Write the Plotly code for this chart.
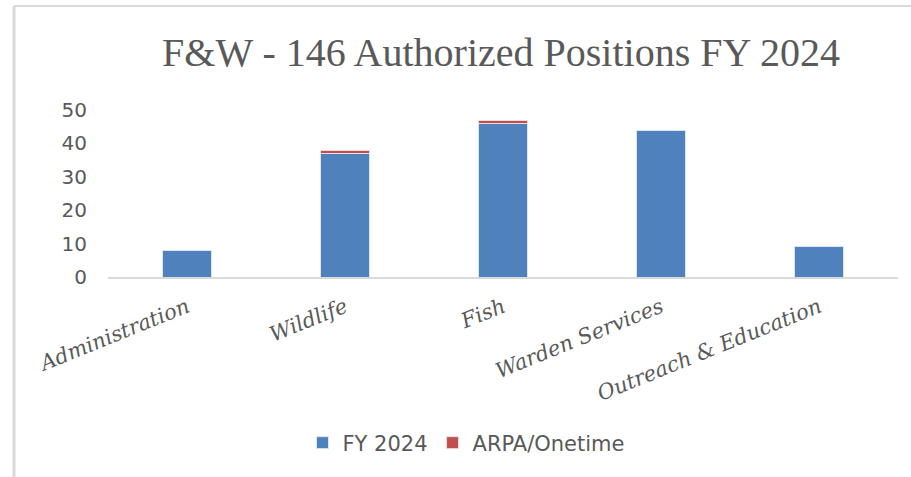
import plotly.graph_objects as go

categories = ["Administration", "Wildlife", "Fish", "Warden Services", "Outreach & Education"]
fy2024 = [8, 37, 46, 44, 9]
arpa_onetime = [None, 1, 1, None, None]

W, H = 911, 477
L, R, T, B = 108, 13, 110, 200
GREY = "#595959"


def px_x(x):
    return (x - L) / (W - L - R)


def px_y(y):
    return (H - B - y) / (H - T - B)


fig = go.Figure()
fig.add_trace(
    go.Bar(
        x=categories,
        y=fy2024,
        name="FY 2024",
        marker=dict(color="#4f81bd", line=dict(color="#dce6f2", width=1)),
    )
)
fig.add_trace(
    go.Bar(
        x=categories,
        y=arpa_onetime,
        name="ARPA/Onetime",
        marker=dict(color="#c0504d", line=dict(color="#f2dcdb", width=1)),
    )
)

# frame lines of the original slide
fig.add_shape(type="line", xref="paper", yref="paper",
              x0=px_x(14), x1=px_x(W), y0=px_y(6), y1=px_y(6),
              line=dict(color="#d9d9d9", width=2))
fig.add_shape(type="line", xref="paper", yref="paper",
              x0=px_x(14), x1=px_x(14), y0=px_y(6), y1=px_y(H),
              line=dict(color="#d9d9d9", width=3))

fig.update_layout(
    width=W,
    height=H,
    barmode="stack",
    bargap=0.69,
    plot_bgcolor="white",
    paper_bgcolor="white",
    margin=dict(l=L, r=R, t=T, b=B),
    title=dict(
        text="F&W - 146 Authorized Positions FY 2024",
        x=px_x(501), xref="paper", xanchor="center",
        y=1 - 52 / H, yanchor="middle",
        font=dict(family="Liberation Serif", size=40, color=GREY),
    ),
    legend=dict(
        orientation="h",
        traceorder="normal",
        x=px_x(466), xanchor="center",
        y=px_y(443), yanchor="middle",
        font=dict(family="DejaVu Sans", size=21, color=GREY),
        itemwidth=30,
    ),
    xaxis=dict(
        showgrid=False,
        showline=True,
        linecolor="#d9d9d9",
        linewidth=2,
        ticks="",
        tickangle=-22,
        ticklabelstandoff=8,
        tickfont=dict(family="DejaVu Serif", size=21, color=GREY, style="italic"),
    ),
    yaxis=dict(
        range=[0, 50],
        dtick=10,
        showgrid=False,
        showline=False,
        zeroline=False,
        ticks="",
        ticklabelstandoff=20,
        tickfont=dict(family="DejaVu Sans", size=20, color=GREY),
    ),
)

# the page's default body margin would shift the chart by 8px
fig.write_html(
    "out.html",
    config={"displayModeBar": False},
    post_script="document.body.style.margin='0';",
)
